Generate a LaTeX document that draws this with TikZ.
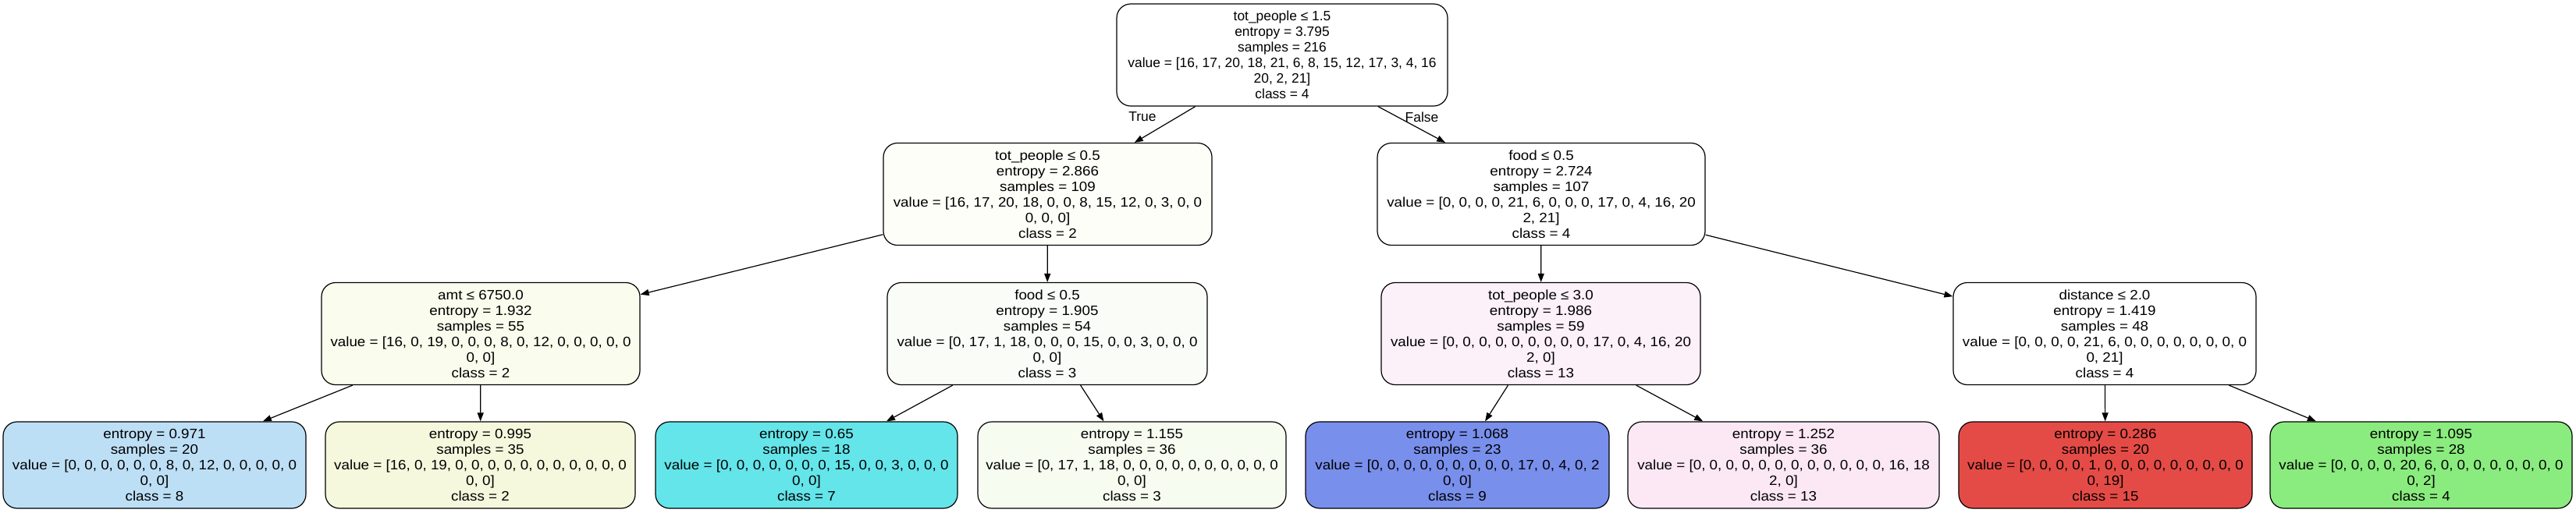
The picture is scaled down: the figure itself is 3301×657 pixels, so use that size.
\documentclass[tikz,border=0pt]{standalone}
\usepackage{fontspec}
\setmainfont{Liberation Sans}
\newfontfamily\widefont[FakeStretch=1.08]{Liberation Sans}
\usepackage{tikz}
\usetikzlibrary{arrows.meta}
\definecolor{fill_l2a}{RGB}{253,254,248}
\definecolor{fill_amt}{RGB}{250,252,237}
\definecolor{fill_food}{RGB}{250,253,247}
\definecolor{fill_tot}{RGB}{252,240,249}
\definecolor{leaf_blue}{RGB}{189,223,246}
\definecolor{leaf_yellow}{RGB}{245,248,220}
\definecolor{leaf_cyan}{RGB}{100,229,234}
\definecolor{leaf_mint}{RGB}{246,252,240}
\definecolor{leaf_violet}{RGB}{121,143,236}
\definecolor{leaf_pink}{RGB}{252,232,245}
\definecolor{leaf_red}{RGB}{229,75,70}
\definecolor{leaf_green}{RGB}{138,236,126}

\begin{document}
\begin{tikzpicture}[x=1pt,y=-1pt]
    % Stili per i nodi dell'albero
    \tikzset{
        split_node/.style={
            draw=black, % Bordo
            line width=1.2pt,
            rounded corners=18pt,
            fill=white,
            minimum height=131pt,
            align=center,
            inner xsep=6pt,
            inner ysep=4pt,
            font=\widefont\fontsize{17.4}{20}\selectfont
        },
        root_node/.style={
            split_node,
            font=\normalfont\fontsize{17.4}{20}\selectfont
        },
        leaf_node/.style={
            split_node,
            minimum height=111pt
        },
        tree_edge/.style={
            -{Triangle[length=11pt,width=8pt]},
            line width=1.2pt
        },
        edge_label/.style={
            font=\fontsize{17.4}{20}\selectfont
        }
    }

    \useasboundingbox (0,0) rectangle (3301,657);

    % Radice
    \node[root_node,minimum width=424pt] (root) at (1643,70.5) {tot\_people ≤ 1.5\\entropy = 3.795\\samples = 216\\value = [16, 17, 20, 18, 21, 6, 8, 15, 12, 17, 3, 4, 16\\20, 2, 21]\\class = 4};

    % Secondo livello
    \node[split_node,minimum width=421pt,fill=fill_l2a] (split_l) at (1342.5,249) {tot\_people ≤ 0.5\\entropy = 2.866\\samples = 109\\value = [16, 17, 20, 18, 0, 0, 8, 15, 12, 0, 3, 0, 0\\0, 0, 0]\\class = 2};
    \node[split_node,minimum width=420pt] (split_r) at (1975,249) {food ≤ 0.5\\entropy = 2.724\\samples = 107\\value = [0, 0, 0, 0, 21, 6, 0, 0, 0, 17, 0, 4, 16, 20\\2, 21]\\class = 4};

    % Terzo livello
    \node[split_node,minimum width=408pt,fill=fill_amt] (split_ll) at (616,428) {amt ≤ 6750.0\\entropy = 1.932\\samples = 55\\value = [16, 0, 19, 0, 0, 0, 8, 0, 12, 0, 0, 0, 0, 0\\0, 0]\\class = 2};
    \node[split_node,minimum width=410pt,fill=fill_food] (split_lr) at (1342,428) {food ≤ 0.5\\entropy = 1.905\\samples = 54\\value = [0, 17, 1, 18, 0, 0, 0, 15, 0, 0, 3, 0, 0, 0\\0, 0]\\class = 3};
    \node[split_node,minimum width=409pt,fill=fill_tot] (split_rl) at (1974.5,428) {tot\_people ≤ 3.0\\entropy = 1.986\\samples = 59\\value = [0, 0, 0, 0, 0, 0, 0, 0, 0, 17, 0, 4, 16, 20\\2, 0]\\class = 13};
    \node[split_node,minimum width=388pt] (split_rr) at (2697,428) {distance ≤ 2.0\\entropy = 1.419\\samples = 48\\value = [0, 0, 0, 0, 21, 6, 0, 0, 0, 0, 0, 0, 0, 0\\0, 21]\\class = 4};

    % Foglie
    \node[leaf_node,minimum width=388pt,fill=leaf_blue] (leaf1) at (198,596.5) {entropy = 0.971\\samples = 20\\value = [0, 0, 0, 0, 0, 0, 8, 0, 12, 0, 0, 0, 0, 0\\0, 0]\\class = 8};
    \node[leaf_node,minimum width=397pt,fill=leaf_yellow] (leaf2) at (615.5,596.5) {entropy = 0.995\\samples = 35\\value = [16, 0, 19, 0, 0, 0, 0, 0, 0, 0, 0, 0, 0, 0\\0, 0]\\class = 2};
    \node[leaf_node,minimum width=387pt,fill=leaf_cyan] (leaf3) at (1033.5,596.5) {entropy = 0.65\\samples = 18\\value = [0, 0, 0, 0, 0, 0, 0, 15, 0, 0, 3, 0, 0, 0\\0, 0]\\class = 7};
    \node[leaf_node,minimum width=395pt,fill=leaf_mint] (leaf4) at (1450.5,596.5) {entropy = 1.155\\samples = 36\\value = [0, 17, 1, 18, 0, 0, 0, 0, 0, 0, 0, 0, 0, 0\\0, 0]\\class = 3};
    \node[leaf_node,minimum width=389pt,fill=leaf_violet] (leaf5) at (1867.5,596.5) {entropy = 1.068\\samples = 23\\value = [0, 0, 0, 0, 0, 0, 0, 0, 0, 17, 0, 4, 0, 2\\0, 0]\\class = 9};
    \node[leaf_node,minimum width=399pt,fill=leaf_pink] (leaf6) at (2285.5,596.5) {entropy = 1.252\\samples = 36\\value = [0, 0, 0, 0, 0, 0, 0, 0, 0, 0, 0, 0, 16, 18\\2, 0]\\class = 13};
    \node[leaf_node,minimum width=376pt,fill=leaf_red] (leaf7) at (2698,596.5) {entropy = 0.286\\samples = 20\\value = [0, 0, 0, 0, 1, 0, 0, 0, 0, 0, 0, 0, 0, 0\\0, 19]\\class = 15};
    \node[leaf_node,minimum width=387pt,fill=leaf_green] (leaf8) at (3102.5,596.5) {entropy = 1.095\\samples = 28\\value = [0, 0, 0, 0, 20, 6, 0, 0, 0, 0, 0, 0, 0, 0\\0, 2]\\class = 4};

    % Archi
    \draw[tree_edge] (root) -- (split_l);
    \draw[tree_edge] (root) -- (split_r);
    \draw[tree_edge] (split_l) -- (split_ll);
    \draw[tree_edge] (split_l) -- (split_lr);
    \draw[tree_edge] (split_r) -- (split_rl);
    \draw[tree_edge] (split_r) -- (split_rr);
    \draw[tree_edge] (split_ll) -- (leaf1);
    \draw[tree_edge] (split_ll) -- (leaf2);
    \draw[tree_edge] (split_lr) -- (leaf3);
    \draw[tree_edge] (split_lr) -- (leaf4);
    \draw[tree_edge] (split_rl) -- (leaf5);
    \draw[tree_edge] (split_rl) -- (leaf6);
    \draw[tree_edge] (split_rr) -- (leaf7);
    \draw[tree_edge] (split_rr) -- (leaf8);

    % Etichette True / False
    \node[edge_label] (lbl_true) at (1464,150) {True};
    \node[edge_label] (lbl_false) at (1822,150) {False};

\end{tikzpicture}
\end{document}
